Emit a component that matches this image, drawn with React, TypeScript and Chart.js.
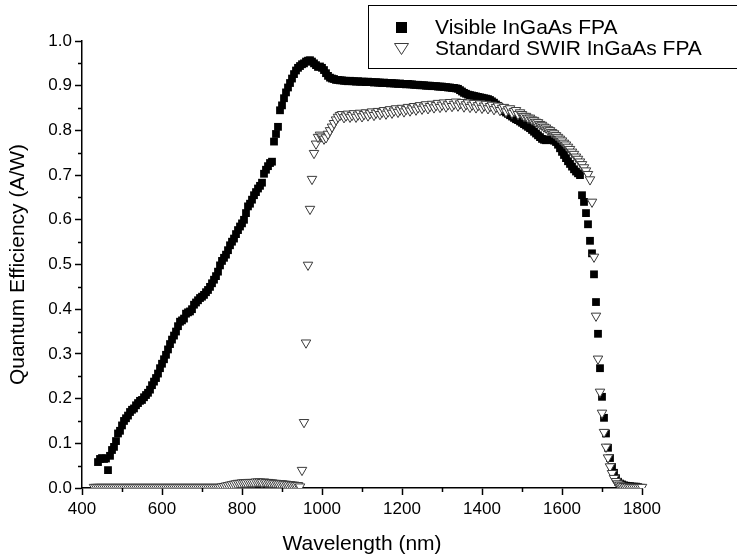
import React, { useEffect, useRef } from "react";
import { Chart, registerables } from "chart.js";

Chart.register(...registerables);

// Wavelength grids (nm): both spectra were sampled every 5 nm
const visStartNm = 440;
const swirStartNm = 430;
const stepNm = 5;

// Visible InGaAs FPA, 440 ... 1790 nm
const visibleQE = [
  // 440-495
  0.058, 0.065, 0.067, 0.065, 0.066, 0.040, 0.072, 0.085, 0.092, 0.105, 0.122, 0.128,
  // 500-595
  0.140, 0.150, 0.156, 0.162, 0.170, 0.175, 0.178, 0.185, 0.190, 0.195, 0.197, 0.203, 0.208, 0.213, 0.220, 0.230, 0.238, 0.246, 0.256, 0.268,
  // 600-695
  0.278, 0.288, 0.298, 0.310, 0.322, 0.332, 0.341, 0.350, 0.362, 0.372, 0.375, 0.379, 0.390, 0.393, 0.395, 0.400, 0.410, 0.415, 0.420, 0.425,
  // 700-795
  0.428, 0.432, 0.438, 0.443, 0.450, 0.458, 0.466, 0.474, 0.484, 0.498, 0.508, 0.515, 0.522, 0.532, 0.543, 0.551, 0.558, 0.568, 0.577, 0.585,
  // 800-895
  0.592, 0.600, 0.615, 0.630, 0.636, 0.645, 0.655, 0.662, 0.670, 0.676, 0.683, 0.703, 0.712, 0.720, 0.727, 0.730, 0.775, 0.792, 0.808, 0.845,
  // 900-995
  0.856, 0.872, 0.885, 0.896, 0.906, 0.916, 0.926, 0.934, 0.940, 0.944, 0.948, 0.950, 0.954, 0.956, 0.957, 0.954, 0.950, 0.946, 0.942, 0.943,
  // 1000-1095
  0.940, 0.935, 0.928, 0.922, 0.918, 0.916, 0.915, 0.913, 0.913, 0.912, 0.912, 0.911, 0.911, 0.910, 0.911, 0.910, 0.910, 0.909, 0.910, 0.909,
  // 1100-1195
  0.909, 0.909, 0.908, 0.909, 0.908, 0.908, 0.907, 0.908, 0.907, 0.907, 0.906, 0.907, 0.906, 0.906, 0.905, 0.906, 0.905, 0.905, 0.904, 0.905,
  // 1200-1295
  0.904, 0.904, 0.903, 0.904, 0.903, 0.903, 0.902, 0.902, 0.902, 0.901, 0.901, 0.901, 0.900, 0.900, 0.900, 0.899, 0.899, 0.899, 0.898, 0.898,
  // 1300-1395
  0.898, 0.897, 0.897, 0.896, 0.896, 0.895, 0.895, 0.894, 0.893, 0.890, 0.887, 0.884, 0.882, 0.880, 0.879, 0.878, 0.877, 0.876, 0.875, 0.874,
  // 1400-1495
  0.873, 0.872, 0.871, 0.870, 0.868, 0.865, 0.862, 0.858, 0.855, 0.851, 0.847, 0.843, 0.840, 0.837, 0.834, 0.831, 0.828, 0.825, 0.823, 0.820,
  // 1500-1595
  0.817, 0.814, 0.811, 0.808, 0.805, 0.801, 0.797, 0.793, 0.789, 0.785, 0.781, 0.779, 0.778, 0.779, 0.780, 0.779, 0.777, 0.774, 0.768, 0.760,
  // 1600-1695
  0.752, 0.745, 0.738, 0.731, 0.725, 0.719, 0.713, 0.708, 0.704, 0.700, 0.655, 0.640, 0.615, 0.590, 0.553, 0.525, 0.478, 0.416, 0.345, 0.268,
  // 1700-1790
  0.204, 0.157, 0.122, 0.090, 0.067, 0.047, 0.034, 0.022, 0.014, 0.010, 0.008, 0.006, 0.005, 0.004, 0.004, 0.003, 0.003, 0.003, 0.002,
];

// Standard SWIR InGaAs FPA, 430 ... 1800 nm
const swirQE = [
  // 430-495
  0.002, 0.002, 0.002, 0.002, 0.002, 0.002, 0.002, 0.002, 0.002, 0.002, 0.002, 0.002, 0.002, 0.002,
  // 500-595
  0.002, 0.002, 0.002, 0.002, 0.002, 0.002, 0.002, 0.002, 0.002, 0.002, 0.002, 0.002, 0.002, 0.002, 0.002, 0.002, 0.002, 0.002, 0.002, 0.002,
  // 600-695
  0.002, 0.002, 0.002, 0.002, 0.002, 0.002, 0.002, 0.002, 0.002, 0.002, 0.002, 0.002, 0.002, 0.002, 0.002, 0.002, 0.002, 0.002, 0.002, 0.002,
  // 700-795
  0.002, 0.002, 0.002, 0.002, 0.002, 0.002, 0.002, 0.002, 0.002, 0.002, 0.003, 0.004, 0.005, 0.006, 0.007, 0.008, 0.009, 0.010, 0.011, 0.011,
  // 800-895
  0.012, 0.012, 0.012, 0.013, 0.013, 0.013, 0.013, 0.014, 0.014, 0.014, 0.013, 0.014, 0.013, 0.013, 0.012, 0.012, 0.011, 0.011, 0.010, 0.010,
  // 900-995
  0.010, 0.009, 0.009, 0.008, 0.008, 0.007, 0.007, 0.006, 0.006, 0.003, 0.040, 0.147, 0.325, 0.499, 0.624, 0.691, 0.749, 0.770, 0.785, 0.790,
  // 1000-1095
  0.786, 0.781, 0.784, 0.792, 0.800, 0.808, 0.816, 0.824, 0.830, 0.834, 0.836, 0.829, 0.833, 0.837, 0.830, 0.834, 0.838, 0.830, 0.835, 0.839,
  // 1100-1195
  0.831, 0.836, 0.840, 0.833, 0.838, 0.842, 0.834, 0.839, 0.843, 0.836, 0.841, 0.845, 0.837, 0.842, 0.847, 0.839, 0.844, 0.849, 0.841, 0.846,
  // 1200-1295
  0.850, 0.842, 0.847, 0.852, 0.844, 0.849, 0.854, 0.846, 0.851, 0.856, 0.848, 0.853, 0.858, 0.849, 0.854, 0.859, 0.851, 0.856, 0.861, 0.852,
  // 1300-1395
  0.857, 0.862, 0.853, 0.858, 0.863, 0.854, 0.859, 0.864, 0.855, 0.860, 0.863, 0.853, 0.858, 0.862, 0.852, 0.857, 0.861, 0.851, 0.856, 0.860,
  // 1400-1495
  0.850, 0.855, 0.859, 0.849, 0.854, 0.857, 0.847, 0.852, 0.855, 0.845, 0.850, 0.852, 0.842, 0.847, 0.849, 0.839, 0.843, 0.845, 0.836, 0.840,
  // 1500-1595
  0.836, 0.832, 0.832, 0.828, 0.828, 0.824, 0.823, 0.819, 0.818, 0.814, 0.812, 0.808, 0.806, 0.802, 0.800, 0.796, 0.793, 0.789, 0.785, 0.781,
  // 1600-1695
  0.777, 0.772, 0.768, 0.763, 0.758, 0.752, 0.747, 0.741, 0.736, 0.730, 0.724, 0.717, 0.710, 0.702, 0.690, 0.640, 0.517, 0.385, 0.289, 0.215,
  // 1700-1800
  0.168, 0.125, 0.092, 0.068, 0.048, 0.033, 0.022, 0.015, 0.010, 0.007, 0.005, 0.004, 0.003, 0.003, 0.002, 0.002, 0.002, 0.002, 0.002, 0.002, 0.002,
];

const seriesLabels = ["Visible InGaAs FPA", "Standard SWIR InGaAs FPA"];
const xTickValues = [400, 600, 800, 1000, 1200, 1400, 1600, 1800];
const xMinorValues = [500, 700, 900, 1100, 1300, 1500, 1700];
const yTickValues = [0.0, 0.1, 0.2, 0.3, 0.4, 0.5, 0.6, 0.7, 0.8, 0.9, 1.0];
const yMinorValues = [0.05, 0.15, 0.25, 0.35, 0.45, 0.55, 0.65, 0.75, 0.85, 0.95];
const xTitle = "Wavelength (nm)";
const yTitle = "Quantum Efficiency (A/W)";

const FONT = "'Liberation Sans', Arial, Helvetica, sans-serif";
const TRI_STROKE = "#3a3a3a";

const minorTicksPlugin = {
  id: "minorTicks",
  afterDraw(chart: any) {
    const { ctx, scales } = chart;
    const xs = scales.x;
    const ys = scales.y;
    ctx.save();
    ctx.strokeStyle = "#000";
    ctx.lineWidth = 1.5;
    ctx.beginPath();
    for (const v of xMinorValues) {
      const px = Math.round(xs.getPixelForValue(v)) + 0.5;
      ctx.moveTo(px, ys.bottom);
      ctx.lineTo(px, ys.bottom + 4);
    }
    for (const v of yMinorValues) {
      const py = Math.round(ys.getPixelForValue(v)) + 0.5;
      ctx.moveTo(xs.left, py);
      ctx.lineTo(xs.left - 4, py);
    }
    ctx.stroke();
    ctx.restore();
  },
};

const boxLegendPlugin = {
  id: "boxLegend",
  afterDraw(chart: any) {
    const ctx = chart.ctx;
    const ds = chart.data.datasets;
    ctx.save();
    ctx.strokeStyle = "#000";
    ctx.lineWidth = 1;
    ctx.strokeRect(368.5, 5.5, 420, 63);
    // square marker
    ctx.fillStyle = ds[0].backgroundColor;
    ctx.fillRect(396, 22, 11, 11);
    // down triangle marker
    ctx.beginPath();
    ctx.moveTo(394.5, 43.5);
    ctx.lineTo(408.5, 43.5);
    ctx.lineTo(401.5, 54.5);
    ctx.closePath();
    ctx.fillStyle = "#fff";
    ctx.fill();
    ctx.strokeStyle = ds[1].borderColor;
    ctx.lineWidth = 1;
    ctx.stroke();
    ctx.fillStyle = "#000";
    ctx.font = `21px ${FONT}`;
    ctx.textBaseline = "middle";
    ctx.textAlign = "left";
    ctx.fillText(ds[0].label, 435, 28);
    ctx.fillText(ds[1].label, 435, 49);
    ctx.restore();
  },
};

export default function App() {
  const canvasRef = useRef<HTMLCanvasElement | null>(null);

  useEffect(() => {
    const canvas = canvasRef.current;
    if (!canvas) return;
    const visPoints = visibleQE.map((y, i) => ({ x: visStartNm + i * stepNm, y }));
    const swirPoints = swirQE.map((y, i) => ({ x: swirStartNm + i * stepNm, y }));
    const clip = { left: false, top: false, right: false, bottom: 0 } as any;

    const chart = new Chart(canvas, {
      type: "scatter",
      data: {
        datasets: [
          {
            label: seriesLabels[0],
            data: visPoints,
            pointStyle: "rect",
            pointRadius: 5.5,
            backgroundColor: "#000000",
            borderColor: "#000000",
            borderWidth: 0,
            order: 1,
            clip,
          },
          {
            label: seriesLabels[1],
            data: swirPoints,
            pointStyle: "triangle",
            rotation: 180,
            pointRadius: 5.5,
            backgroundColor: "#ffffff",
            borderColor: TRI_STROKE,
            borderWidth: 1,
            order: 0,
            clip,
          },
        ],
      },
      options: {
        responsive: false,
        animation: false,
        devicePixelRatio: 1,
        layout: { padding: { top: 41, right: 95, bottom: 0, left: 0 } },
        plugins: {
          legend: { display: false },
          tooltip: { enabled: false },
        },
        scales: {
          x: {
            type: "linear",
            min: 400,
            max: 1800,
            z: 1,
            afterFit: (scale: any) => {
              scale.height = 69;
            },
            afterBuildTicks: (scale: any) => {
              scale.ticks = xTickValues.map((v) => ({ value: v }));
            },
            grid: {
              display: true,
              drawOnChartArea: false,
              drawTicks: true,
              tickLength: 7,
              tickWidth: 1.5,
              tickColor: "#000",
            },
            border: { display: true, color: "#000", width: 1.5 },
            ticks: {
              color: "#000",
              padding: 4,
              maxRotation: 0,
              autoSkip: false,
              font: { family: FONT, size: 17 },
              callback: (v: any) => String(v),
            },
            title: {
              display: true,
              text: xTitle,
              color: "#000",
              font: { family: FONT, size: 21 },
              padding: { top: 0, bottom: 0 },
            },
          },
          y: {
            type: "linear",
            min: 0,
            max: 1,
            z: 1,
            afterFit: (scale: any) => {
              scale.width = 82;
            },
            afterBuildTicks: (scale: any) => {
              scale.ticks = yTickValues.map((v) => ({ value: v }));
            },
            grid: {
              display: true,
              drawOnChartArea: false,
              drawTicks: true,
              tickLength: 7,
              tickWidth: 1.5,
              tickColor: "#000",
            },
            border: { display: true, color: "#000", width: 1.5 },
            ticks: {
              color: "#000",
              padding: 3,
              autoSkip: false,
              font: { family: FONT, size: 17 },
              callback: (v: any) => Number(v).toFixed(1),
            },
            title: {
              display: true,
              text: yTitle,
              color: "#000",
              font: { family: FONT, size: 21 },
              padding: { top: 6, bottom: 0 },
            },
          },
        },
      },
      plugins: [minorTicksPlugin, boxLegendPlugin],
    });

    return () => {
      chart.destroy();
    };
  }, []);

  return (
    <div style={{ position: "fixed", left: 0, top: 0, width: 737, height: 557, background: "#fff" }}>
      <canvas ref={canvasRef} width={737} height={557} style={{ display: "block", width: 737, height: 557 }} />
    </div>
  );
}
